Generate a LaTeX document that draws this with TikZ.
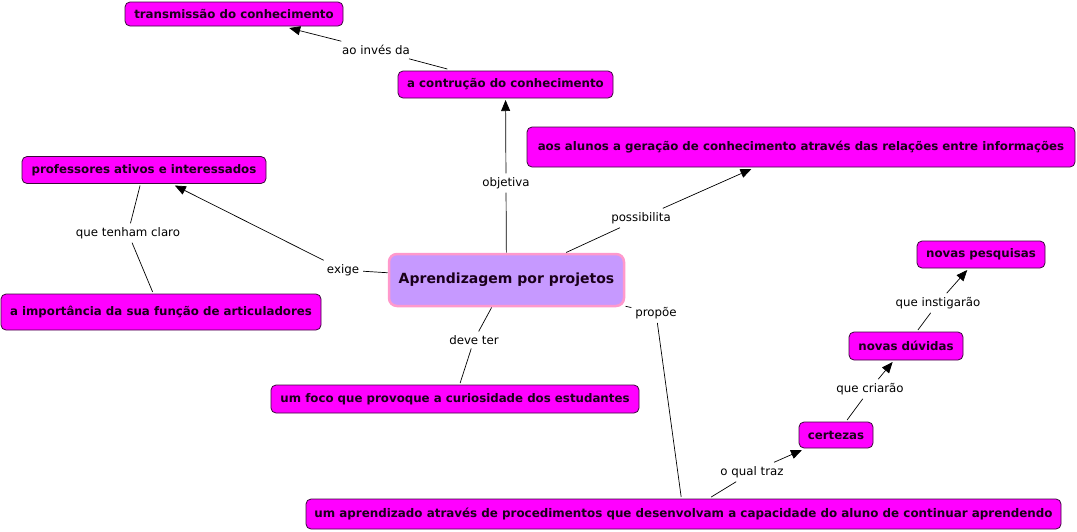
\documentclass[tikz,border=0pt]{standalone}
\usepackage{fontspec}
\setmainfont{DejaVu Sans}
\usetikzlibrary{arrows.meta}
\definecolor{cmag}{HTML}{FF00FF}
\definecolor{cbord}{HTML}{3A0A3A}
\definecolor{ctext}{HTML}{1A001A}
\definecolor{mainfill}{HTML}{C699FF}
\definecolor{mainbord}{HTML}{FF99CC}
\begin{document}
\begin{tikzpicture}[x=1pt,y=-1pt,
  concept/.style={draw=cbord, fill=cmag, rounded corners=5pt, line width=0.8pt,
    font=\bfseries\fontsize{11.8}{14}\selectfont, text=ctext, inner sep=1pt, outer sep=2pt},
  mainconcept/.style={draw=mainbord, fill=mainfill, rounded corners=8pt, line width=2.5pt,
    font=\bfseries\fontsize{14}{16}\selectfont, text=ctext, inner sep=1pt, outer sep=1.5pt},
  lbl/.style={font=\fontsize{11.8}{13}\selectfont, inner sep=3pt, outer sep=1pt, text=black},
  link/.style={line width=0.7pt},
  arr/.style={line width=0.7pt, -{Triangle[length=11pt,width=9pt]}}]
\useasboundingbox (0,0) rectangle (1077,531);
\fill[white] (0,0) rectangle (1077,531);
% concepts
\node[concept, minimum width=218pt, minimum height=24pt] (trans) at (234,14) {transmissão do conhecimento};
\node[concept, minimum width=215pt, minimum height=27pt] (contr) at (505.5,84.5) {a contrução do conhecimento};
\node[concept, minimum width=548pt, minimum height=40pt] (alunos) at (801,147) {aos alunos a geração de conhecimento através das relações entre informações};
\node[concept, minimum width=244pt, minimum height=27pt] (prof) at (144,170) {professores ativos e interessados};
\node[concept, minimum width=320pt, minimum height=36pt] (import) at (161,312) {a importância da sua função de articuladores};
\node[mainconcept, minimum width=235pt, minimum height=52pt] (main) at (506.5,280) {Aprendizagem por projetos};
\node[concept, minimum width=368pt, minimum height=28pt] (foco) at (455,399) {um foco que provoque a curiosidade dos estudantes};
\node[concept, minimum width=128pt, minimum height=27pt] (pesq) at (981,254.5) {novas pesquisas};
\node[concept, minimum width=114pt, minimum height=28pt] (duv) at (906,346) {novas dúvidas};
\node[concept, minimum width=74pt, minimum height=26pt] (cert) at (836,435) {certezas};
\node[concept, minimum width=755pt, minimum height=30pt, font=\bfseries\fontsize{11.9}{14}\selectfont] (aprend) at (683.5,514) {um aprendizado através de procedimentos que desenvolvam a capacidade do aluno de continuar aprendendo};
% labels
\node[lbl] (linv) at (376,50) {ao invés da};
\node[lbl] (lobj) at (506,183) {objetiva};
\node[lbl] (lposs) at (641,218) {possibilita};
\node[lbl] (lexige) at (343,270) {exige};
\node[lbl] (lclaro) at (128,233) {que tenham claro};
\node[lbl] (ldeve) at (474,340) {deve ter};
\node[lbl] (lprop) at (656,313) {propõe};
\node[lbl] (linst) at (938,303) {que instigarão};
\node[lbl] (lcria) at (870,389) {que criarão};
\node[lbl] (ltraz) at (752,472) {o qual traz};
% connectors
\draw[link] (main) -- (lobj);
\draw[arr] (lobj) -- (contr);
\draw[link] (contr) -- (linv);
\draw[arr] (linv) -- (trans);
\draw[link] (main) -- (lposs);
\draw[arr] (lposs) -- (alunos);
\draw[link] (main) -- (lexige);
\draw[arr] (lexige) -- (prof);
\draw[link] (prof) -- (lclaro);
\draw[link] (lclaro) -- (import);
\draw[link] (main) -- (ldeve);
\draw[link] (ldeve) -- (foco);
\draw[link] (main) -- (lprop);
\draw[link] (lprop) -- (aprend);
\draw[link] (aprend) -- (ltraz);
\draw[arr] (ltraz) -- (cert);
\draw[link] (cert) -- (lcria);
\draw[arr] (lcria) -- (duv);
\draw[link] (duv) -- (linst);
\draw[arr] (linst) -- (pesq);
\end{tikzpicture}
\end{document}
